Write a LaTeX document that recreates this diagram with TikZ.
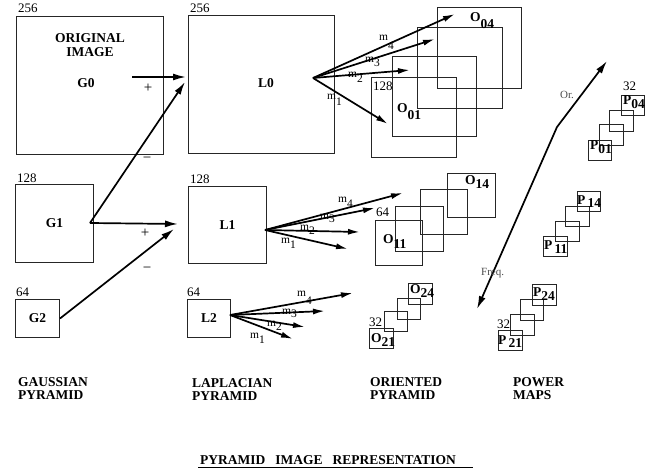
\documentclass[tikz,border=0pt]{standalone}
\usepackage{fontspec}
\setmainfont{Liberation Serif}
\usetikzlibrary{arrows.meta}
\newcommand{\sbx}[2][-6pt]{\raisebox{#1}{#2}}
\begin{document}
\begin{tikzpicture}[x=1pt,y=-1pt,
  box/.style={draw=black!85, line width=1pt, inner sep=0pt, anchor=north west,
    font=\bfseries\fontsize{13.5}{15}\selectfont},
  sq/.style={draw=black!85, line width=1pt, inner sep=0pt, anchor=north west},
  arr/.style={-{Latex[length=13pt,width=7pt]}, line width=1.7pt},
  farr/.style={-{Latex[length=12pt,width=6pt]}, line width=1.7pt},
  lbl/.style={font=\bfseries\fontsize{13.5}{13.5}\selectfont, inner sep=0pt},
  num/.style={font=\fontsize{13}{14}\selectfont, inner sep=0pt, anchor=base west},
  sgn/.style={font=\fontsize{15}{16}\selectfont, inner sep=0pt},
  mlab/.style={font=\fontsize{11.5}{12}\selectfont, inner sep=0pt, anchor=base west},
  olab/.style={font=\bfseries\fontsize{13.5}{14}\selectfont, inner sep=0pt, anchor=base west},
  axlab/.style={font=\fontsize{11}{12}\selectfont, text=black!70, inner sep=0pt, anchor=base west},
]
\useasboundingbox (0,0) rectangle (661,470);

% Gaussian pyramid
\node[box, minimum width=147pt, minimum height=138pt] (G0) at (16,16) {};
\node[box, minimum width=78pt, minimum height=78pt] (G1) at (15,184) {G1};
\node[box, minimum width=44pt, minimum height=38pt] (G2) at (15,299) {G2};
\node[lbl, align=center] (orig) at (90,45) {ORIGINAL\\IMAGE};
\node[lbl] (g0t) at (86,83) {G0};

% Laplacian pyramid
\node[box, minimum width=146pt, minimum height=138pt] (L0) at (188,15) {};
\node[box, minimum width=78pt, minimum height=77pt] (L1) at (188,186) {L1};
\node[box, minimum width=43pt, minimum height=38pt] (L2) at (187,299) {L2};
\node[lbl] (l0t) at (266,83) {L0};

% size labels
\node[num] (n1) at (18,13) {256};
\node[num] (n2) at (190,13) {256};
\node[num] (n3) at (17,183) {128};
\node[num] (n4) at (190,184) {128};
\node[num] (n5) at (16,297) {64};
\node[num] (n6) at (187,297) {64};

% Gaussian -> Laplacian connections
\coordinate (g0s) at (132,77);
\coordinate (g1s) at (90,223);
\coordinate (l0a) at (186,77);
\coordinate (l0b) at (185,82);
\coordinate (l1a) at (178,224);
\coordinate (l1b) at (174,229);
\draw[arr] (g0s) -- (l0a);
\draw[arr] (g1s) -- (l0b);
\draw[arr] (g1s) -- (l1a);
\draw[arr] (G2.east) -- (l1b);
\node[sgn] (p1) at (148,88) {+};
\node[sgn] (m1) at (147,160) {\textminus};
\node[sgn] (p2) at (145,233) {+};
\node[sgn] (m2) at (147,270) {\textminus};

% Oriented pyramid level 0
\node[sq, minimum width=85pt, minimum height=80pt] (O01) at (371,77) {};
\node[sq, minimum width=84pt, minimum height=80pt] (O02) at (392,56) {};
\node[sq, minimum width=85pt, minimum height=81pt] (O03) at (417,27) {};
\node[sq, minimum width=84pt, minimum height=81pt] (O04) at (437,7) {};
\node[num] (n7) at (373,91) {128};
\node[olab] (o01t) at (397,113) {O\sbx[-7pt]{01}};
\node[olab] (o04t) at (470,22) {O\sbx[-7pt]{04}};

% Oriented pyramid level 1
\node[sq, minimum width=47pt, minimum height=45pt] (O11) at (375,220) {};
\node[sq, minimum width=48pt, minimum height=45pt] (O12) at (395,206) {};
\node[sq, minimum width=47pt, minimum height=45pt] (O13) at (420,189) {};
\node[sq, minimum width=48pt, minimum height=44pt] (O14) at (447,173) {};
\node[num] (n8) at (376,217) {64};
\node[olab] (o11t) at (383,244) {O\sbx[-5pt]{11}};
\node[olab] (o14t) at (465,185) {O\sbx[-4pt]{14}};

% Oriented pyramid level 2
\node[sq, minimum width=24pt, minimum height=20pt] (O21) at (369,328) {};
\node[sq, minimum width=23pt, minimum height=20pt] (O22) at (384,311) {};
\node[sq, minimum width=23pt, minimum height=21pt] (O23) at (397,298) {};
\node[sq, minimum width=24pt, minimum height=21pt] (O24) at (408,283) {};
\node[num] (n9) at (369,326) {32};
\node[olab] (o21t) at (371,342) {O\sbx[-4pt]{21}};
\node[olab] (o24t) at (410,294) {O\sbx[-4pt]{24}};

% Fans from L0
\coordinate (f0) at (313,78);
\coordinate (t04) at (455,14);
\coordinate (t03) at (435,39);
\coordinate (t02) at (410,70);
\coordinate (t01) at (388,124);
\draw[farr] (f0) -- (t04);
\draw[farr] (f0) -- (t03);
\draw[farr] (f0) -- (t02);
\draw[farr] (f0) -- (t01);
\node[mlab] (ma4) at (379,41) {m\sbx[-9pt]{4}};
\node[mlab] (ma3) at (365,63) {m\sbx[-4pt]{3}};
\node[mlab] (ma2) at (348,78) {m\sbx[-5pt]{2}};
\node[mlab] (ma1) at (327,100) {m\sbx[-6pt]{1}};

% Fans from L1
\coordinate (f1) at (265,230);
\coordinate (t14) at (403,193);
\coordinate (t13) at (375,208);
\coordinate (t12) at (360,232);
\coordinate (t11) at (348,249);
\draw[farr] (f1) -- (t14);
\draw[farr] (f1) -- (t13);
\draw[farr] (f1) -- (t12);
\draw[farr] (f1) -- (t11);
\node[mlab] (mb4) at (338,203) {m\sbx[-5pt]{4}};
\node[mlab] (mb3) at (320,220) {m\sbx[-3pt]{3}};
\node[mlab] (mb2) at (300,231) {m\sbx[-4pt]{2}};
\node[mlab] (mb1) at (281,244) {m\sbx[-5pt]{1}};

% Fans from L2
\coordinate (f2) at (230,315);
\coordinate (t24) at (353,293);
\coordinate (t23) at (325,311);
\coordinate (t22) at (305,327);
\coordinate (t21) at (293,339);
\draw[farr] (f2) -- (t24);
\draw[farr] (f2) -- (t23);
\draw[farr] (f2) -- (t22);
\draw[farr] (f2) -- (t21);
\node[mlab] (mc4) at (297,297) {m\sbx[-8pt]{4}};
\node[mlab] (mc3) at (282,314) {m\sbx[-3pt]{3}};
\node[mlab] (mc2) at (267,326) {m\sbx[-4pt]{2}};
\node[mlab] (mc1) at (250,338) {m\sbx[-5pt]{1}};

% Power maps
\node[sq, minimum width=23pt, minimum height=20pt] (P01) at (588,140) {};
\node[sq, minimum width=24pt, minimum height=21pt] (P02) at (599,124) {};
\node[sq, minimum width=24pt, minimum height=21pt] (P03) at (609,110) {};
\node[sq, minimum width=23pt, minimum height=20pt] (P04) at (621,95) {};
\node[num] (n10) at (623,91) {32};
\node[olab] (p01t) at (590,150) {P\sbx[-4pt]{01}};
\node[olab] (p04t) at (623,105) {P\sbx[-4pt]{04}};

\node[sq, minimum width=24pt, minimum height=20pt] (P11) at (543,236) {};
\node[sq, minimum width=24pt, minimum height=20pt] (P12) at (555,221) {};
\node[sq, minimum width=24pt, minimum height=20pt] (P13) at (565,206) {};
\node[sq, minimum width=23pt, minimum height=20pt] (P14) at (577,191) {};
\node[olab] (p11t) at (544,250) {P\sbx[-4pt]{\,11}};
\node[olab] (p14t) at (577,205) {P\sbx[-3pt]{\,14}};

\node[sq, minimum width=24pt, minimum height=20pt] (P21) at (498,330) {};
\node[sq, minimum width=24pt, minimum height=21pt] (P22) at (510,314) {};
\node[sq, minimum width=23pt, minimum height=21pt] (P23) at (520,299) {};
\node[sq, minimum width=24pt, minimum height=21pt] (P24) at (532,284) {};
\node[num] (n11) at (497,328) {32};
\node[olab] (p21t) at (498,344) {P\sbx[-3pt]{\,21}};
\node[olab] (p24t) at (533,297) {P\sbx[-3pt]{24}};

% Frequency / orientation axes
\coordinate (fq) at (477,309);
\coordinate (bend) at (557,127);
\coordinate (ort) at (607,61);
\draw[{Latex[length=13pt,width=7pt]}-{Latex[length=13pt,width=7pt]}, line width=1.7pt, line join=round] (fq) -- (bend) -- (ort);
\node[axlab] (orl) at (560,99) {Or.};
\node[axlab] (fql) at (481,276) {Freq.};

% Bottom captions
\node[lbl, align=left, anchor=north west] (cg) at (18,377) {GAUSSIAN\\PYRAMID};
\node[lbl, align=left, anchor=north west] (cl) at (192,378) {LAPLACIAN\\PYRAMID};
\node[lbl, align=left, anchor=north west] (co) at (370,377) {ORIENTED\\PYRAMID};
\node[lbl, align=left, anchor=north west] (cp) at (513,377) {POWER\\MAPS};

\node[lbl, anchor=base west] (title) at (200,464.5) {PYRAMID\hspace{10pt}IMAGE\hspace{10pt}REPRESENTATION};
\coordinate (ul1) at (198,467);
\coordinate (ul2) at (473,467);
\draw[line width=1pt] (ul1) -- (ul2);
\end{tikzpicture}
\end{document}
